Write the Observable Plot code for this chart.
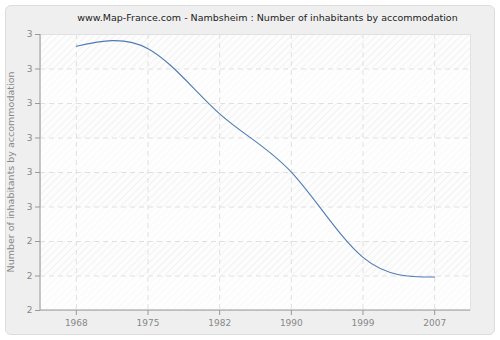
<!DOCTYPE html>
<html>
<head>
<meta charset="utf-8">
<script src="https://cdn.jsdelivr.net/npm/d3@7"></script>
<script src="https://cdn.jsdelivr.net/npm/@observablehq/plot@0.6"></script>
<style>
  html, body { margin: 0; padding: 0; background: #ffffff; }
  #wrap { position: relative; width: 500px; height: 340px; }
  #box { position: absolute; left: 5px; top: 5px; width: 488px; height: 328px;
         background: #efefef; border: 1px solid #dcdcdc; border-radius: 6px; }
  #title { position: absolute; left: 40px; width: 455px; top: 12px; text-align: center;
           font-family: "DejaVu Sans", sans-serif; font-size: 9.5px; color: #222; }
  #chart { position: absolute; left: 0; top: 0; }
</style>
</head>
<body>
<div id="wrap">
  <div id="box"></div>
  <div id="title">www.Map-France.com - Nambsheim : Number of inhabitants by accommodation</div>
  <div id="chart"></div>
</div>
<script>
const years = ["1968", "1975", "1982", "1990", "1999", "2007"];
const values = [2.966, 2.959, 2.77, 2.601, 2.354, 2.297];
const yTicks = [2.2, 2.3, 2.4, 2.5, 2.6, 2.7, 2.8, 2.9, 3.0];
const yTickLabels = ["2", "2", "2", "3", "3", "3", "3", "3", "3"];
const yLabel = "Number of inhabitants by accommodation";

const data = years.map((y, i) => ({year: y, value: values[i]}));
const bands = yTicks.slice(0, -1).map((t, i) => ({y1: t, y2: yTicks[i + 1], i}));
const fmt = d => yTickLabels[yTicks.findIndex(t => Math.abs(t - d) < 1e-9)] ?? "";

const chart = Plot.plot({
  width: 500,
  height: 340,
  marginLeft: 40,
  marginTop: 34,
  marginRight: 30,
  marginBottom: 30,
  style: {background: "transparent", fontFamily: "DejaVu Sans, sans-serif", fontSize: "9px", color: "#888"},
  x: {type: "point", domain: years, padding: 0.5, round: false, label: null},
  y: {domain: [2.2, 3.0], label: null},
  marks: [
    Plot.frame({fill: "url(#hatch)", stroke: "#e2e2e2"}),
    Plot.rect(bands.filter(b => b.i % 2 === 0), {y1: "y1", y2: "y2", fill: "#ffffff", fillOpacity: 0.55}),
    Plot.gridY(yTicks, {stroke: "#e0e0e0", strokeOpacity: 1, strokeDasharray: "5,4"}),
    Plot.gridX(years, {stroke: "#e0e0e0", strokeOpacity: 1, strokeDasharray: "5,4"}),
    Plot.axisY(yTicks, {tickFormat: fmt, tickSize: 5, stroke: "#999", fill: "#888", tickPadding: 3, label: null}),
    Plot.axisX(years, {tickSize: 5, stroke: "#999", fill: "#888", tickPadding: 4, label: null}),
    Plot.line(data, {x: "year", y: "value", curve: "natural", stroke: "#4e7bb5", strokeWidth: 1.1})
  ]
});

const ys = chart.scale("y");
const svg = d3.select(chart);
// bands span full plot width
svg.selectAll('g[aria-label="rect"] rect').attr("x", 40).attr("width", 430);

// axis lines
svg.append("line").attr("x1", 40).attr("x2", 40).attr("y1", ys.apply(3.0)).attr("y2", ys.apply(2.2)).attr("stroke", "#999");
svg.append("line").attr("x1", 40).attr("x2", 470).attr("y1", ys.apply(2.2)).attr("y2", ys.apply(2.2)).attr("stroke", "#999");
svg.node().appendChild(svg.select('g[aria-label="line"]').node());

// hatch pattern
const defs = svg.insert("defs", ":first-child");
const pat = defs.append("pattern").attr("id", "hatch").attr("patternUnits", "userSpaceOnUse")
  .attr("width", 5).attr("height", 5).attr("patternTransform", "rotate(45)");
pat.append("rect").attr("width", 5).attr("height", 5).attr("fill", "#fdfdfd");
pat.append("line").attr("x1", 0).attr("y1", 0).attr("x2", 0).attr("y2", 5).attr("stroke", "#ececec").attr("stroke-width", 1.2);

// y label
svg.append("text").attr("transform", `translate(14, ${(ys.apply(3.0) + ys.apply(2.2)) / 2}) rotate(-90)`)
  .attr("text-anchor", "middle").attr("fill", "#888").attr("font-size", "9.5px")
  .attr("font-family", "DejaVu Sans, sans-serif").text(yLabel);

document.getElementById("chart").appendChild(chart);
</script>
</body>
</html>
